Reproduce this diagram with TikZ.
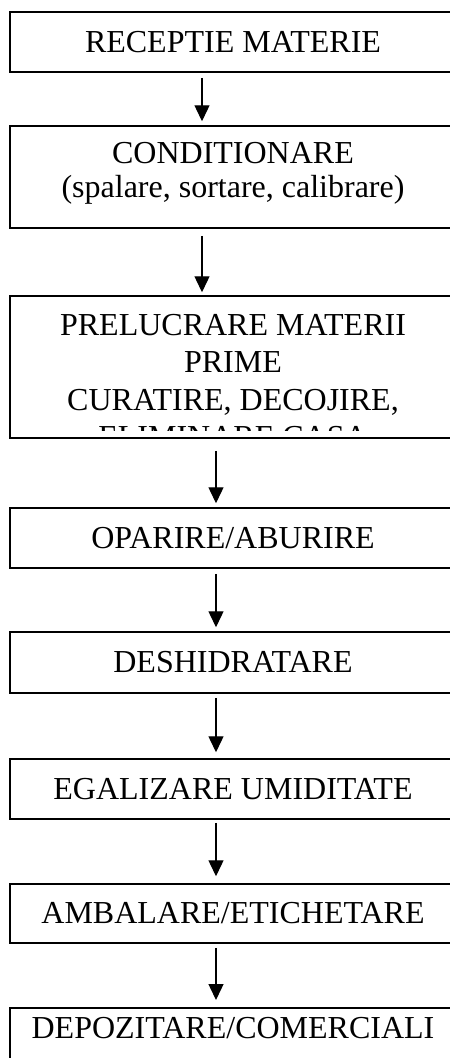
\documentclass[tikz,border=0pt]{standalone}
\usepackage{fontspec}
\setmainfont{Liberation Serif}
\usetikzlibrary{arrows.meta}
\begin{document}
\begin{tikzpicture}[x=1bp,y=-1bp,
  box/.style={draw=black, line width=1.5bp, rectangle, minimum width=446bp, inner sep=0pt,
              font=\fontsize{32bp}{37.5bp}\selectfont},
  txt/.style={inner sep=0pt, align=center, font=\fontsize{32bp}{37.5bp}\selectfont},
  arr/.style={line width=1.4bp, -{Triangle[width=15bp,length=16bp]}}]
\clip (0,0) rectangle (450,1058);
\fill[white] (0,0) rectangle (450,1058);
% boxes
\node[box, minimum height=60bp] (b1) at (233,42) {RECEPTIE MATERIE};
\node[box, minimum height=102bp] (b2) at (233,177) {};
\node[txt, font=\fontsize{32bp}{34bp}\selectfont, anchor=north] (t2) at (233,142) {CONDITIONARE\\(spalare, sortare, calibrare)};
\node[box, minimum height=142bp] (b3) at (233,367) {};
\begin{scope}
  \clip (10,296) rectangle (456,430);
  \node[txt, anchor=north] (t3) at (233,314) {PRELUCRARE MATERII\\PRIME\\CURATIRE, DECOJIRE,\\ELIMINARE CASA};
\end{scope}
\node[box, minimum height=60bp] (b4) at (233,538) {OPARIRE/ABURIRE};
\node[box, minimum height=61bp] (b5) at (233,662.5) {DESHIDRATARE};
\node[box, minimum height=60bp] (b6) at (233,789) {EGALIZARE UMIDITATE};
\node[box, minimum height=59bp] (b7) at (233,913.5) {AMBALARE/ETICHETARE};
\node[box, minimum height=60bp, anchor=north] (b8) at (233,1007) {};
\node[txt, anchor=base] (t8) at (233,1038) {DEPOZITARE/COMERCIALI};
% arrows
\draw[arr, shorten <=5bp, shorten >=4bp] ([xshift=-31bp]b1.south) -- ([xshift=-31bp]b2.north);
\draw[arr, shorten <=7bp, shorten >=3bp] ([xshift=-31bp]b2.south) -- ([xshift=-31bp]b3.north);
\draw[arr, shorten <=12bp, shorten >=4bp] ([xshift=-17bp]b3.south) -- ([xshift=-17bp]b4.north);
\draw[arr, shorten <=5bp, shorten >=4bp] ([xshift=-17bp]b4.south) -- ([xshift=-17bp]b5.north);
\draw[arr, shorten <=4bp, shorten >=6bp] ([xshift=-17bp]b5.south) -- ([xshift=-17bp]b6.north);
\draw[arr, shorten <=3bp, shorten >=7bp] ([xshift=-17bp]b6.south) -- ([xshift=-17bp]b7.north);
\draw[arr, shorten <=4bp, shorten >=7bp] ([xshift=-17bp]b7.south) -- ([xshift=-17bp]b8.north);
\end{tikzpicture}
\end{document}
